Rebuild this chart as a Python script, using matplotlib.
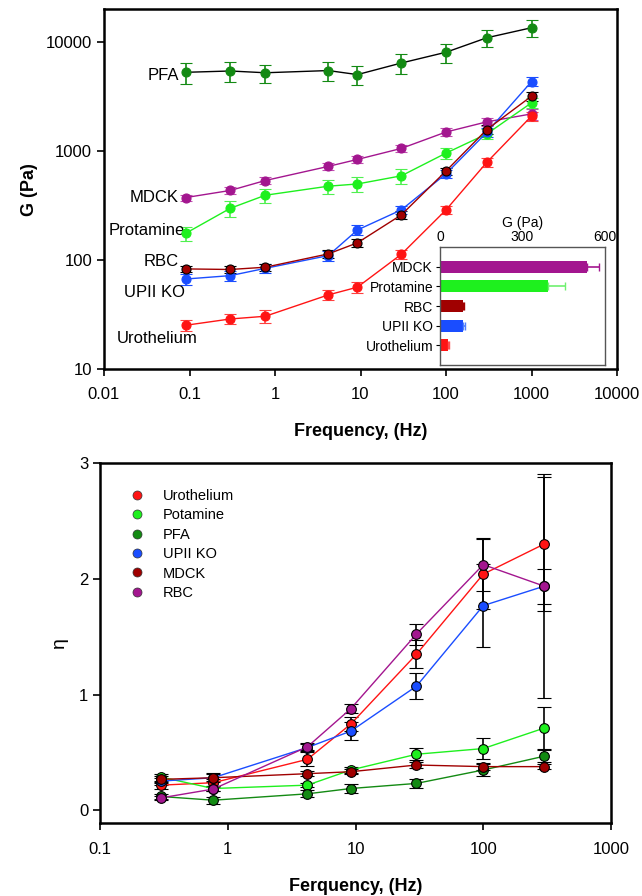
import numpy as np
import matplotlib
matplotlib.use('Agg')
import matplotlib.pyplot as plt
from matplotlib.lines import Line2D

plt.rcParams['font.family'] = ['Liberation Sans', 'DejaVu Sans']

# ---- top panel: G vs frequency ----
freq_g = [0.09, 0.3, 0.77, 4.2, 9.2, 30, 100, 300, 1000]
g_pfa = [5300, 5450, 5250, 5500, 5050, 6450, 8100, 11000, 13600]
g_pfa_err = [1200, 1100, 1000, 1100, 1000, 1300, 1600, 1900, 2300]
g_mdck = [375, 436, 538, 725, 840, 1060, 1500, 1860, 2200]
g_mdck_err = [25, 30, 40, 60, 60, 80, 120, 150, 250]
g_prot = [176, 299, 394, 477, 500, 594, 960, 1440, 2780]
g_prot_err = [25, 50, 60, 70, 80, 90, 120, 150, 300]
g_rbc = [83, 82, 86, 114, 144, 260, 657, 1580, 3200]
g_rbc_err = [6, 6, 6, 10, 12, 20, 50, 150, 300]
g_upii = [67, 72, 84, 110, 189, 289, 620, 1490, 4350]
g_upii_err = [8, 8, 8, 12, 20, 25, 50, 150, 400]
g_uro = [25.2, 28.8, 30.5, 47.9, 56.4, 113, 289, 790, 2100]
g_uro_err = [3, 3, 4, 5, 6, 10, 25, 70, 200]

# inset bars
bar_names = ['Urothelium', 'UPII KO', 'RBC', 'Protamine', 'MDCK']
bar_vals = [29, 82, 84, 392, 533]
bar_errs = [3, 8, 5, 63, 45]

# ---- bottom panel: eta vs frequency ----
freq_eta = [0.3, 0.77, 4.2, 9.2, 30, 100, 300]
eta_names = ['Urothelium', 'Potamine', 'PFA', 'UPII KO', 'MDCK', 'RBC']
eta_vals = [
    [0.217, 0.238, 0.44, 0.745, 1.348, 2.04, 2.30],
    [0.287, 0.188, 0.217, 0.348, 0.484, 0.533, 0.71],
    [0.119, 0.087, 0.142, 0.188, 0.232, 0.348, 0.467],
    [0.252, 0.281, 0.542, 0.684, 1.072, 1.768, 1.936],
    [0.267, 0.281, 0.316, 0.333, 0.391, 0.377, 0.377],
    [0.107, 0.183, 0.548, 0.878, 1.522, 2.122, 1.936],
]
eta_errs = [
    [0.03, 0.03, 0.06, 0.06, 0.12, 0.30, 0.58],
    [0.03, 0.02, 0.02, 0.03, 0.05, 0.09, 0.18],
    [0.02, 0.03, 0.03, 0.04, 0.04, 0.05, 0.05],
    [0.03, 0.03, 0.03, 0.08, 0.11, 0.36, 0.15],
    [0.03, 0.04, 0.02, 0.02, 0.03, 0.03, 0.02],
    [0.02, 0.02, 0.03, 0.04, 0.09, 0.23, 0.97],
]

RED = '#ff1414'
LGREEN = '#1ef01e'
DGREEN = '#138a13'
BLUE = '#1a4dff'
DRED = '#a00000'
PURPLE = '#a3168f'

fig = plt.figure(figsize=(6.42, 8.96), dpi=100)

# top axes
ax = fig.add_axes([104/642, 1-369/896, 513/642, 359.5/896])
ax.set_xscale('log')
ax.set_yscale('log')

def gser(y, e, color, line, ecol, edge):
    ax.errorbar(freq_g, y, yerr=e, color=line, lw=1.0, ecolor=ecol,
                elinewidth=1.2, capsize=4, capthick=1.2, marker='o', ms=6.5,
                mfc=color, mec=edge, mew=0.8, zorder=3)

gser(g_pfa, g_pfa_err, DGREEN, 'black', DGREEN, DGREEN)
gser(g_mdck, g_mdck_err, PURPLE, PURPLE, '#c04eb0', PURPLE)
gser(g_prot, g_prot_err, LGREEN, LGREEN, '#50f050', LGREEN)
gser(g_upii, g_upii_err, BLUE, BLUE, BLUE, BLUE)
gser(g_rbc, g_rbc_err, DRED, DRED, 'black', 'black')
gser(g_uro, g_uro_err, RED, RED, '#ff4040', RED)

ax.set_xlim(0.01, 10000)
ax.set_ylim(10, 20000)
ax.set_xticks([0.01, 0.1, 1, 10, 100, 1000, 10000])
ax.set_xticklabels(['0.01', '0.1', '1', '10', '100', '1000', '10000'])
ax.set_yticks([10, 100, 1000, 10000])
ax.set_yticklabels(['10', '100', '1000', '10000'])
ax.minorticks_off()
ax.tick_params(labelsize=12, length=5, width=1.2, direction='out')
ax.tick_params(axis='x', pad=8)
for s in ax.spines.values():
    s.set_linewidth(1.8)
ax.set_xlabel('Frequency, (Hz)', fontsize=13, fontweight='bold', labelpad=15)
ax.set_ylabel('G (Pa)', fontsize=13, fontweight='bold', labelpad=6)

for txt, x, y in [('PFA', 0.075, 5000), ('MDCK', 0.075, 372), ('Protamine', 0.088, 185),
                  ('RBC', 0.075, 98), ('UPII KO', 0.088, 50), ('Urothelium', 0.123, 19.2)]:
    ax.text(x, y, txt, ha='right', va='center', fontsize=12)

# inset
ins = fig.add_axes([440/642, 1-365/896, 165/642, 118/896])
bar_cols = [RED, BLUE, DRED, LGREEN, PURPLE]
err_cols = ['#ff5050', '#5080ff', DRED, '#70f070', PURPLE]
ypos = np.arange(len(bar_names))
ins.barh(ypos, bar_vals, height=0.62, color=bar_cols)
for yp, v, e, c in zip(ypos, bar_vals, bar_errs, err_cols):
    ins.errorbar(v, yp, xerr=[[0], [e]], color=c, capsize=3, lw=1.2)
ins.set_xlim(0, 600)
ins.set_ylim(-1, 5)
ins.set_yticks(ypos)
ins.set_yticklabels(bar_names, fontsize=10)
ins.set_xticks([0, 300, 600])
ins.xaxis.tick_top()
ins.xaxis.set_label_position('top')
ins.tick_params(axis='x', labelsize=10, length=0, pad=2)
ins.tick_params(axis='y', length=3, pad=2)
ins.set_xlabel('G (Pa)', fontsize=10, labelpad=2)
for s in ins.spines.values():
    s.set_linewidth(1.0)
    s.set_edgecolor('#555555')

# bottom axes
bx = fig.add_axes([100/642, 1-823/896, 511/642, 360/896])
bx.set_xscale('log')
eta_cols = [RED, LGREEN, DGREEN, BLUE, DRED, PURPLE]
for vals, errs, c in zip(eta_vals, eta_errs, eta_cols):
    bx.errorbar(freq_eta, vals, yerr=errs, color=c, lw=1.0, ecolor='black',
                elinewidth=1.2, capsize=5, capthick=1.2, marker='o', ms=7,
                mfc=c, mec='black', mew=0.8, zorder=3)
bx.set_xlim(0.1, 1000)
bx.set_ylim(-0.11, 3)
bx.set_xticks([0.1, 1, 10, 100, 1000])
bx.set_xticklabels(['0.1', '1', '10', '100', '1000'])
bx.set_yticks([0, 1, 2, 3])
bx.minorticks_off()
bx.tick_params(labelsize=12, length=5, width=1.2, direction='out')
bx.tick_params(axis='x', pad=9)
for s in bx.spines.values():
    s.set_linewidth(1.8)
bx.set_xlabel('Ferquency, (Hz)', fontsize=13, fontweight='bold', labelpad=15)
bx.set_ylabel('\u03b7', fontsize=14, labelpad=8)

handles = [Line2D([], [], ls='none', marker='o', ms=6.5, mfc=c, mec='#333333', mew=0.5)
           for c in eta_cols]
bx.legend(handles, eta_names, loc='upper left', bbox_to_anchor=(0.058, 0.928),
          frameon=False, fontsize=10.5, handlelength=1.0, handletextpad=1.3,
          labelspacing=0.37, borderpad=0, borderaxespad=0)

plt.savefig('out.png', dpi=100)
